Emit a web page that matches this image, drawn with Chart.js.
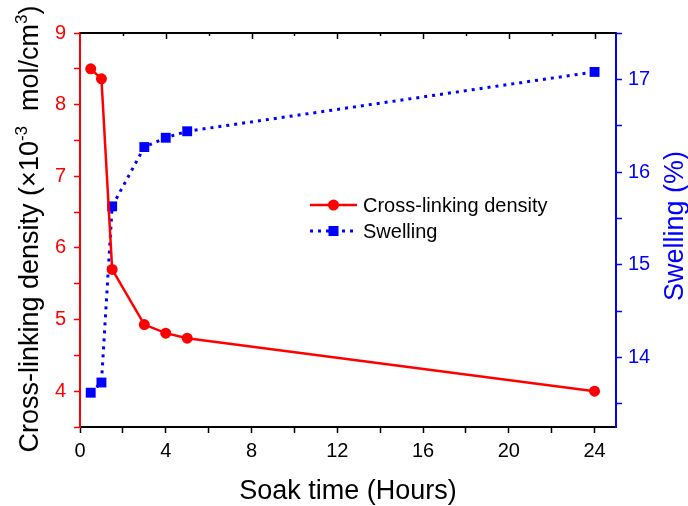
<!DOCTYPE html>
<html>
<head>
<meta charset="utf-8">
<script src="https://cdn.jsdelivr.net/npm/chart.js@4.4.0/dist/chart.umd.min.js"></script>
<style>
	html, body { margin: 0; padding: 0; background: #fff; }
	#chart { display: block; }
</style>
</head>
<body>
<canvas id="chart" width="688" height="506"></canvas>
<script>
	'use strict';

	// Soak time in hours
	var hours = [ 0.5, 1, 1.5, 3, 4, 5, 24 ];
	// Cross-linking density (x10^-3 mol/cm^3)
	var crossLinking = [ 8.50, 8.36, 5.70, 4.93, 4.81, 4.74, 4.00 ];
	// Swelling (%)
	var swelling = [ 13.62, 13.73, 15.63, 16.27, 16.37, 16.44, 17.08 ];

	var xTicks = [ 0, 4, 8, 12, 16, 20, 24 ];
	var leftTicks = [ 4, 5, 6, 7, 8, 9 ];
	var rightTicks = [ 14, 15, 16, 17 ];

	var FONT = "'Liberation Sans', Arial, sans-serif";
	var RED = '#ff0000';
	var BLUE = '#0000ff';

	function toPoints( xs, ys ) {
		return xs.map( function( x, i ) {
			return { x: x, y: ys[ i ] };
		} );
	}

	function majorOnly( list ) {
		return function( value ) {
			return list.indexOf( value ) !== -1 ? String( value ) : '';
		};
	}

	// Text with superscript pieces, centred on the current origin
	function drawRich( ctx, parts, size, color ) {
		var supSize = Math.round( size * 0.62 );
		var total = 0;
		parts.forEach( function( p ) {
			ctx.font = ( p.sup ? supSize : size ) + 'px ' + FONT;
			p.w = ctx.measureText( p.text ).width;
			total += p.w;
		} );
		var x = -total / 2;
		ctx.fillStyle = color;
		ctx.textAlign = 'left';
		ctx.textBaseline = 'alphabetic';
		parts.forEach( function( p ) {
			ctx.font = ( p.sup ? supSize : size ) + 'px ' + FONT;
			ctx.fillText( p.text, x, p.sup ? -size * 0.4 : 0 );
			x += p.w;
		} );
	}

	var decorations = {
		id: 'decorations',
		afterDraw: function( chart ) {
			var ctx = chart.ctx;
			var area = chart.chartArea;
			var xs = chart.scales.x;

			ctx.save();

			// top frame line with inward ticks
			ctx.strokeStyle = '#000';
			ctx.lineWidth = 2;
			ctx.beginPath();
			ctx.moveTo( area.left, area.top );
			ctx.lineTo( area.right, area.top );
			ctx.stroke();
			ctx.lineWidth = 1.5;
			for ( var v = 2; v <= 24; v += 2 ) {
				var px = Math.round( xs.getPixelForValue( v ) ) + 0.5;
				var len = ( v % 4 === 0 ) ? 6 : 3;
				ctx.beginPath();
				ctx.moveTo( px, area.top );
				ctx.lineTo( px, area.top + len );
				ctx.stroke();
			}

			// legend
			var lx = 310, lw = 47;
			ctx.lineWidth = 2.5;
			ctx.strokeStyle = RED;
			ctx.beginPath();
			ctx.moveTo( lx, 205 );
			ctx.lineTo( lx + lw, 205 );
			ctx.stroke();
			ctx.fillStyle = RED;
			ctx.beginPath();
			ctx.arc( lx + lw / 2, 205, 5.5, 0, Math.PI * 2 );
			ctx.fill();

			ctx.strokeStyle = BLUE;
			ctx.lineWidth = 3;
			ctx.setLineDash( [ 3, 5 ] );
			ctx.beginPath();
			ctx.moveTo( lx, 231 );
			ctx.lineTo( lx + lw, 231 );
			ctx.stroke();
			ctx.setLineDash( [] );
			ctx.fillStyle = BLUE;
			ctx.fillRect( lx + lw / 2 - 5, 226, 10, 10 );

			ctx.fillStyle = '#000';
			ctx.font = '20px ' + FONT;
			ctx.textAlign = 'left';
			ctx.textBaseline = 'middle';
			ctx.fillText( 'Cross-linking density', 363, 206 );
			ctx.fillText( 'Swelling', 363, 232 );

			// x title
			ctx.font = '27px ' + FONT;
			ctx.textAlign = 'center';
			ctx.textBaseline = 'alphabetic';
			ctx.fillText( 'Soak time (Hours)', ( area.left + area.right ) / 2, 499 );

			// left title
			ctx.save();
			ctx.translate( 38, 229 );
			ctx.rotate( -Math.PI / 2 );
			drawRich( ctx, [
				{ text: 'Cross-linking density (\u00d710' },
				{ text: '-3', sup: true },
				{ text: '  mol/cm' },
				{ text: '3', sup: true },
				{ text: ')' }
			], 27, '#000' );
			ctx.restore();

			// right title
			ctx.save();
			ctx.translate( 683, 226 );
			ctx.rotate( -Math.PI / 2 );
			drawRich( ctx, [ { text: 'Swelling (%)' } ], 27, BLUE );
			ctx.restore();

			ctx.restore();
		}
	};

	new Chart( document.getElementById( 'chart' ), {
		type: 'line',
		data: {
			datasets: [
				{
					label: 'Cross-linking density',
					data: toPoints( hours, crossLinking ),
					yAxisID: 'y',
					borderColor: RED,
					backgroundColor: RED,
					borderWidth: 2.5,
					pointStyle: 'circle',
					pointRadius: 5.5,
					pointBorderWidth: 0,
					tension: 0
				},
				{
					label: 'Swelling',
					data: toPoints( hours, swelling ),
					yAxisID: 'y1',
					borderColor: BLUE,
					backgroundColor: BLUE,
					borderWidth: 3,
					borderDash: [ 3, 5 ],
					pointStyle: 'rect',
					pointRadius: 7,
					pointBorderWidth: 0,
					tension: 0
				}
			]
		},
		options: {
			responsive: false,
			animation: false,
			devicePixelRatio: 1,
			layout: { padding: { top: 33, left: 0, right: 0, bottom: 0 } },
			plugins: {
				legend: { display: false },
				tooltip: { enabled: false }
			},
			scales: {
				x: {
					type: 'linear',
					position: 'bottom',
					min: 0,
					max: 25,
					ticks: {
						stepSize: 2,
						includeBounds: false,
						autoSkip: false,
						maxRotation: 0,
						color: '#000',
						padding: 6,
						font: { family: FONT, size: 20 },
						callback: majorOnly( xTicks )
					},
					grid: {
						drawOnChartArea: false,
						tickLength: 6,
						tickWidth: 1.5,
						tickColor: '#000'
					},
					border: { color: '#000', width: 2 },
					afterFit: function( scale ) { scale.height = 79; }
				},
				y: {
					type: 'linear',
					position: 'left',
					min: 3.5,
					max: 9,
					ticks: {
						stepSize: 0.5,
						includeBounds: false,
						autoSkip: false,
						color: RED,
						padding: 8,
						font: { family: FONT, size: 20 },
						callback: majorOnly( leftTicks )
					},
					grid: {
						drawOnChartArea: false,
						tickLength: 6,
						tickWidth: 1.5,
						tickColor: RED
					},
					border: { color: RED, width: 2 },
					afterFit: function( scale ) { scale.width = 80; }
				},
				y1: {
					type: 'linear',
					position: 'right',
					min: 13.25,
					max: 17.5,
					ticks: {
						stepSize: 0.5,
						includeBounds: false,
						autoSkip: false,
						color: BLUE,
						padding: 6,
						font: { family: FONT, size: 20 },
						callback: majorOnly( rightTicks )
					},
					grid: {
						drawOnChartArea: false,
						tickLength: 6,
						tickWidth: 1.5,
						tickColor: BLUE
					},
					border: { color: BLUE, width: 2 },
					afterFit: function( scale ) { scale.width = 72; }
				}
			}
		},
		plugins: [ decorations ]
	} );
</script>
</body>
</html>
